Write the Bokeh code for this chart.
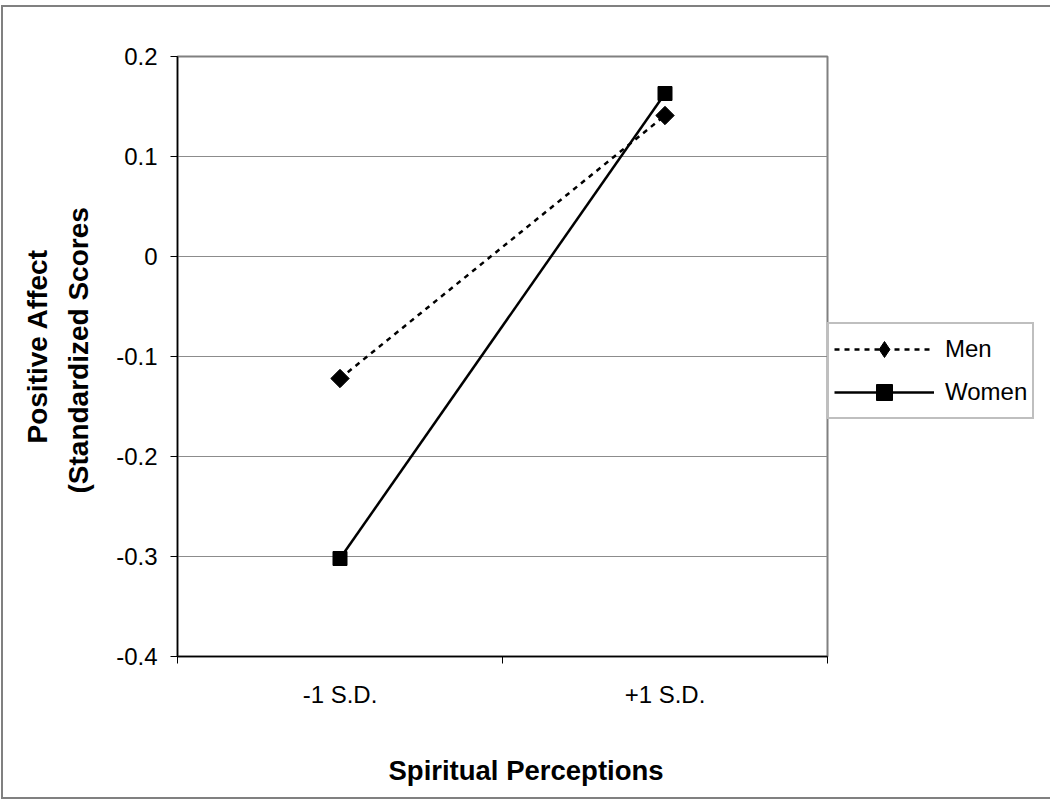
import numpy as np
from bokeh.plotting import figure
from bokeh.models import FixedTicker, Legend, LegendItem, Title, Range1d
from bokeh.embed import file_html
from bokeh.resources import INLINE

# ---- data ----
categories = ["-1 S.D.", "+1 S.D."]
men = [-0.122, 0.141]
women = [-0.302, 0.163]
y_ticks = [-0.4, -0.3, -0.2, -0.1, 0.0, 0.1, 0.2]
y_tick_labels = ["-0.4", "-0.3", "-0.2", "-0.1", "0", "0.1", "0.2"]
x_title = "Spiritual Perceptions"
y_title_lines = ["Positive Affect", "(Standardized Scores"]

x = [i + 0.5 for i in range(len(categories))]
boundaries = list(range(len(categories) + 1))

FONT = "Liberation Sans"

p = figure(frame_width=650, frame_height=600,
           x_range=Range1d(0, len(categories)), y_range=Range1d(y_ticks[0], y_ticks[-1]),
           output_backend="svg", toolbar_location=None,
           min_border_left=174, min_border_top=49, min_border_right=217, min_border_bottom=141,
           background_fill_color="white", border_fill_color="white")
p.styles = {"margin-left": "1px", "margin-top": "5px", "border": "2px solid #808080"}

p.outline_line_color = "#808080"
p.outline_line_width = 2
p.xgrid.visible = False
p.ygrid.grid_line_color = "#8c8c8c"
p.ygrid.grid_line_width = 1

# y axis
p.yaxis.ticker = FixedTicker(ticks=y_ticks)
p.yaxis.major_label_overrides = dict(zip(y_ticks, y_tick_labels))
p.yaxis.major_tick_out = 7
p.yaxis.major_tick_in = 0
p.yaxis.minor_tick_out = 0
p.yaxis.minor_tick_in = 0
p.yaxis.major_label_standoff = 13

# x axis
p.xaxis.ticker = FixedTicker(ticks=x, minor_ticks=boundaries)
p.xaxis.major_label_overrides = dict(zip(x, categories))
p.xaxis.major_tick_out = 0
p.xaxis.major_tick_in = 0
p.xaxis.minor_tick_out = 7
p.xaxis.minor_tick_in = 0
p.xaxis.minor_tick_line_color = "black"
p.xaxis.minor_tick_line_width = 1
p.xaxis.major_label_standoff = 17

for ax in (p.xaxis, p.yaxis):
    ax.axis_line_color = "black"
    ax.axis_line_width = 1.5
    ax.major_tick_line_color = "black"
    ax.major_label_text_font = FONT
    ax.major_label_text_font_size = "24px"
    ax.major_label_text_color = "black"

# series
men_line = p.line(x, men, line_color="black", line_width=2.5, line_dash="5 5")
men_pts = p.scatter(x, men, marker="square", size=13, angle=np.pi / 4,
                    fill_color="black", line_color="black")
women_line = p.line(x, women, line_color="black", line_width=2.5)
women_pts = p.scatter(x, women, marker="square", size=14,
                      fill_color="black", line_color="black")
# diamond key for the legend (zero size on the plot; the legend sizes its own key)
men_key = p.scatter(x, men, marker="diamond", size=0,
                    fill_color="black", line_color="black")

legend = Legend(items=[LegendItem(label="Men", renderers=[men_line, men_key]),
                       LegendItem(label="Women", renderers=[women_line, women_pts])],
                location=(0, 237))
legend.glyph_width = 100
legend.glyph_height = 40
legend.label_height = 28
legend.spacing = 3
legend.padding = 5
legend.margin = 0
legend.label_standoff = 11
legend.label_text_font = FONT
legend.label_text_font_size = "24px"
legend.label_text_color = "black"
legend.border_line_color = "#808080"
legend.border_line_width = 2
legend.background_fill_color = "white"
legend.background_fill_alpha = 1.0
p.add_layout(legend, "right")

# axis titles
p.add_layout(Title(text="\n" + x_title, align="left", offset=211, standoff=22,
                   text_font=FONT, text_font_size="27.5px", text_font_style="bold",
                   text_color="black"), "below")
p.add_layout(Title(text=y_title_lines[1], align="left", offset=163, standoff=39,
                   text_font=FONT, text_font_size="28px", text_font_style="bold",
                   text_color="black"), "left")
p.add_layout(Title(text=y_title_lines[0], align="left", offset=213, standoff=-22,
                   text_font=FONT, text_font_size="28px", text_font_style="bold",
                   text_color="black"), "left")

open("out.html", "w").write(file_html(p, INLINE))
